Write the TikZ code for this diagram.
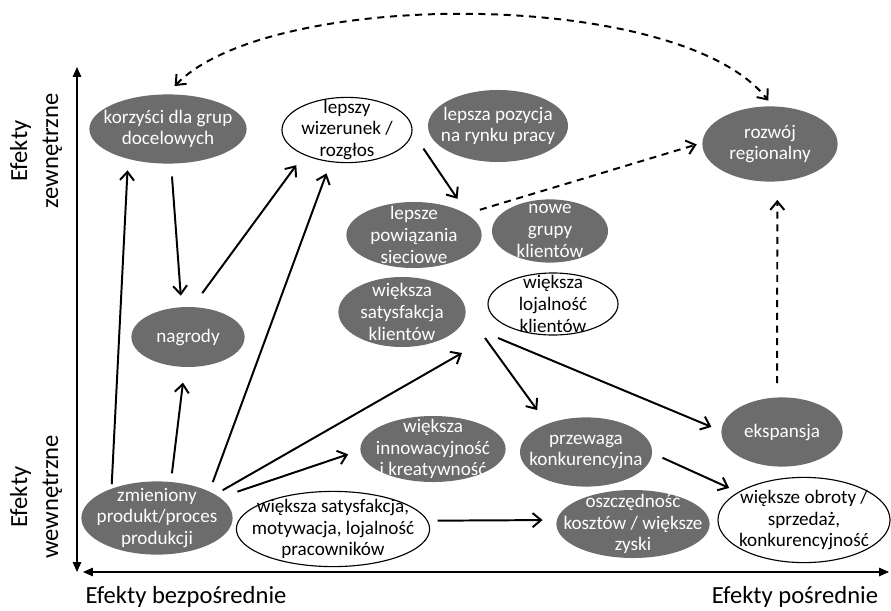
\documentclass[tikz,border=0pt]{standalone}
\usepackage{fontspec}
\setmainfont{Carlito}
\usepackage{tikz}
\usetikzlibrary{calc,arrows.meta,shapes.geometric}
\definecolor{blobgray}{RGB}{108,108,108}

\begin{document}
\begin{tikzpicture}[x=0.025cm, y=-0.025cm,
  blob/.style={ellipse, fill=blobgray, inner sep=0pt},
  ring/.style={ellipse, draw=black, line width=0.8pt, fill=white, inner sep=0pt},
  every label/.style={align=center, inner sep=0pt, font=\fontsize{13.6}{15.5}\selectfont},
  wtxt/.style={text=white},
  conn/.style={-{Straight Barb[length=6pt,width=10pt]}, line width=1.4pt},
  dconn/.style={conn, dash pattern=on 5pt off 4pt},
  dboth/.style={dconn, {Straight Barb[length=6pt,width=10pt]}-{Straight Barb[length=6pt,width=10pt]}},
  axis/.style={{Triangle[length=7pt,width=6pt]}-{Triangle[length=7pt,width=6pt]}, line width=0.9pt},
  axlab/.style={align=center, font=\fontsize{17.5}{22}\selectfont}]
  \useasboundingbox (0,0) rectangle (891,610);

  \draw[axis] (77,67) -- (77,572);
  \draw[axis] (83,572) -- (889,572);
  \node[axlab, rotate=90] (lz) at (36,151) {Efekty\\zewnętrzne};
  \node[axlab, rotate=90] (lw) at (36,497) {Efekty\\wewnętrzne};
  \node[axlab] (lb) at (186,597) {Efekty bezpośrednie};
  \node[axlab] (lp) at (795,597) {Efekty pośrednie};

  \node[blob, minimum width=3.93cm, minimum height=1.73cm, label={[wtxt]center:{korzyści dla grup\\docelowych}}] (kor) at (168,129) {};
  \node[ring, minimum width=3.25cm, minimum height=1.63cm, label={center:{lepszy\\wizerunek /\\rozgłos}}] (wiz) at (347,130) {};
  \node[blob, minimum width=3.5cm, minimum height=1.8cm, label={[wtxt]center:{lepsza pozycja\\na rynku pracy}}] (rynek) at (498,126) {};
  \node[blob, minimum width=3.38cm, minimum height=1.88cm, label={[wtxt]center:{rozwój\\regionalny}}] (rozw) at (770,144) {};
  \node[blob, minimum width=3.38cm, minimum height=1.65cm, label={[wtxt]center:{lepsze\\powiązania\\sieciowe}}] (siec) at (414,235) {};
  \node[blob, minimum width=2.9cm, minimum height=1.58cm, label={[wtxt]center:{nowe\\grupy\\klientów}}] (nowe) at (550,231) {};
  \node[blob, minimum width=3.18cm, minimum height=1.75cm, label={[wtxt]center:{większa\\satysfakcja\\klientów}}] (satk) at (402,312) {};
  \node[ring, minimum width=3.25cm, minimum height=1.55cm, label={center:{większa\\lojalność\\klientów}}] (lojk) at (553,304) {};
  \node[blob, minimum width=2.83cm, minimum height=1.5cm, label={[wtxt]center:{nagrody}}] (nagr) at (188,337) {};
  \node[blob, minimum width=3.63cm, minimum height=1.65cm, label={[wtxt]center:{większa\\innowacyjność\\i kreatywność}}] (innow) at (433,449) {};
  \node[blob, minimum width=3.3cm, minimum height=1.73cm, label={[wtxt]center:{przewaga\\konkurencyjna}}] (przew) at (586,452) {};
  \node[blob, minimum width=3.03cm, minimum height=1.73cm, label={[wtxt]center:{ekspansja}}] (eksp) at (782,432) {};
  \node[blob, minimum width=3.78cm, minimum height=1.83cm, label={[wtxt]center:{zmieniony\\produkt/proces\\produkcji}}] (zmien) at (157,518) {};
  \node[ring, minimum width=4.83cm, minimum height=1.88cm, label={center:{większa satysfakcja,\\motywacja, lojalność\\pracowników}}] (prac) at (333,529) {};
  \node[blob, minimum width=3.83cm, minimum height=1.7cm, label={[wtxt]center:{oszczędność\\kosztów / większe\\zyski}}] (oszcz) at (633,524) {};
  \node[ring, minimum width=4.3cm, minimum height=2.13cm, label={center:{większe obroty /\\sprzedaż,\\konkurencyjność}}] (obroty) at (804,520) {};

  \draw[conn, shorten <=3pt, shorten >=8pt] (zmien.147) -- (kor.217);
  \draw[conn, shorten <=9pt, shorten >=8pt] (kor.275) -- (nagr.102);
  \draw[conn, shorten <=6pt, shorten >=11pt] (zmien.69) -- (nagr.264);
  \draw[conn, shorten <=12pt, shorten >=9pt] (nagr.82) -- (wiz.210);
  \draw[conn, shorten <=7pt, shorten >=8.5pt] (zmien.27) -- (wiz.243);
  \draw[conn, shorten <=14pt, shorten >=14pt] (wiz.358) -- (siec.20);
  \draw[dconn, shorten <=10pt, shorten >=4pt] (siec.22) -- (rozw.179);
  \draw[dboth, shorten <=8pt, shorten >=5pt] (kor.92) .. controls (270,-12) and (680,-12) .. (rozw.86);
  \draw[dconn, shorten <=10pt, shorten >=13pt] (eksp.98) -- (rozw.281);
  \draw[conn, shorten <=6pt] (zmien.22) -- ([shift={(60,41)}]satk.center);
  \draw[conn, shorten <=13pt, shorten >=9pt] (zmien.18) -- (innow.181);
  \draw[conn, shorten <=7pt, shorten >=10pt] (prac.5) -- (oszcz.177);
  \draw[conn, shorten >=12pt] ([shift={(83,26)}]satk.center) -- (przew.144);
  \draw[conn, shorten >=7.5pt] ([shift={(-55,34)}]lojk.center) -- (eksp.179);
  \draw[conn, shorten <=8pt, shorten >=7pt] (przew.359) -- (obroty.157);
\end{tikzpicture}
\end{document}
